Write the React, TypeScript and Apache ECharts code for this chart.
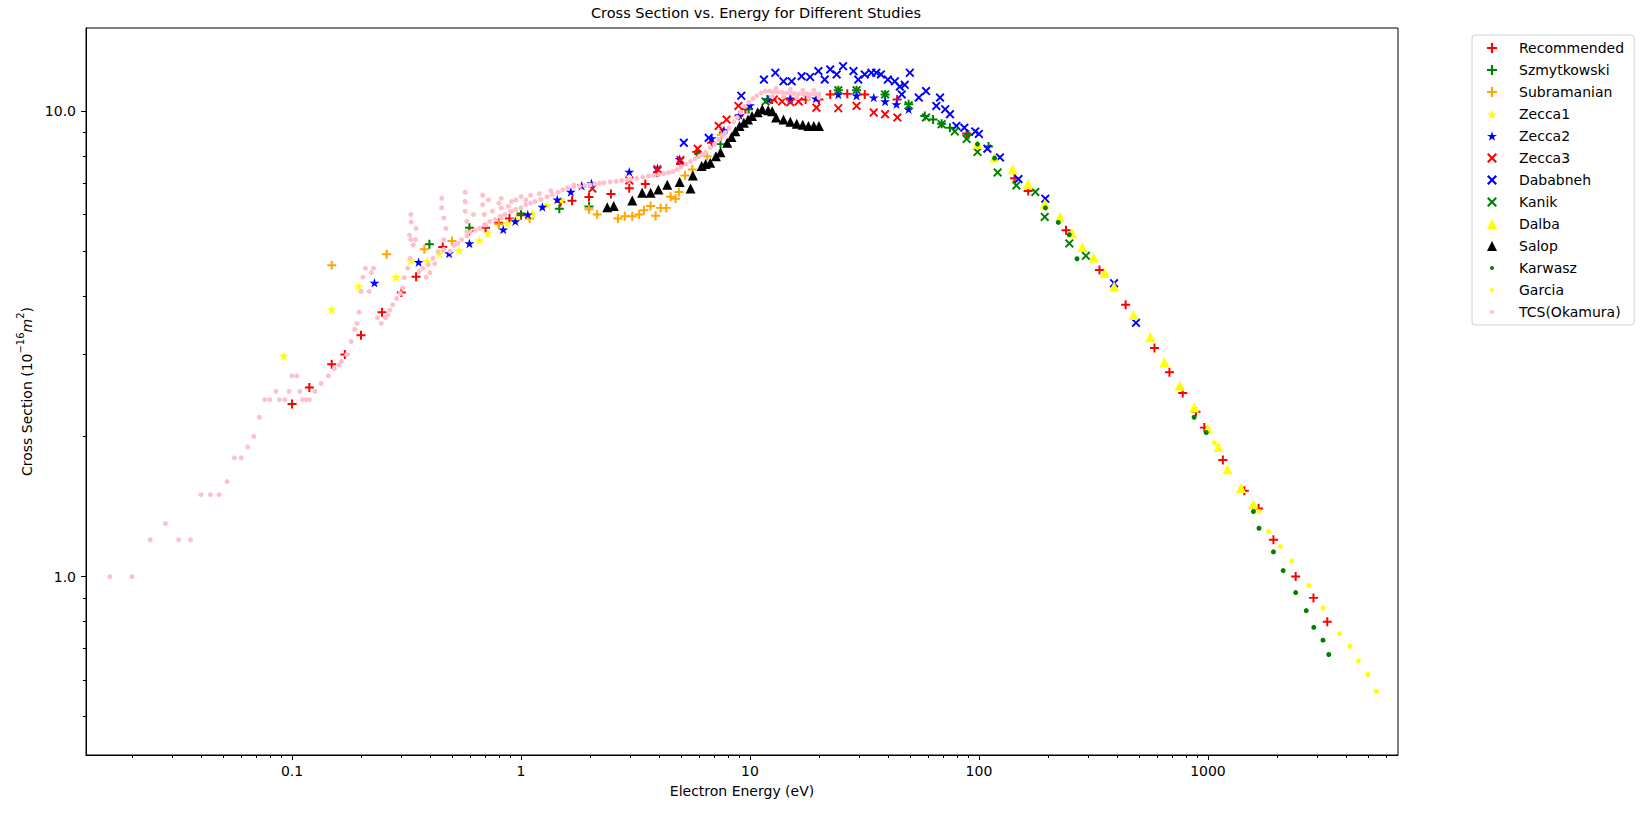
import React, { useEffect, useRef } from 'react';
import * as echarts from 'echarts';

type Pt = [number, number];

// [electron energy (eV), cross section (1e-16 m^2)]
const recommended: Pt[] = [
  [0.1, 2.35], [0.119, 2.55], [0.149, 2.86], [0.17, 3.0], [0.2, 3.3], [0.247, 3.7], [0.3, 4.08], [0.348, 4.41],
  [0.455, 5.11], [0.595, 5.53], [0.7, 5.62], [0.8, 5.76], [0.89, 5.88], [1.0, 5.98], [1.49, 6.38], [1.67, 6.42],
  [1.98, 6.54], [2.47, 6.64], [2.97, 6.83], [3.49, 6.98], [3.94, 7.39], [4.97, 7.7], [5.85, 8.18], [6.8, 8.56],
  [7.66, 9.0], [8.95, 9.78], [9.55, 10.1], [12.5, 10.6], [15, 10.6], [17.5, 10.6], [20, 10.6], [22.4, 10.87],
  [26.6, 10.9], [31.7, 10.87], [43.9, 10.6], [88.3, 8.96], [143, 7.18], [164, 6.74], [240, 5.55], [336, 4.56],
  [437, 3.84], [584, 3.1], [679, 2.75], [776, 2.48], [887, 2.26], [964, 2.09], [1162, 1.78], [1441, 1.53],
  [1664, 1.4], [1932, 1.2], [2416, 1.0], [2890, 0.9], [3320, 0.8],
];
const szmytkowski: Pt[] = [
  [0.398, 5.18], [0.595, 5.62], [1.0, 6.03], [1.47, 6.17], [1.98, 6.24], [5.97, 8.09], [7.43, 8.5], [9.86, 10.1],
  [11.9, 10.6], [24.3, 11.1], [29.2, 11.1], [38.9, 10.87], [49.3, 10.35], [58, 9.77], [63, 9.6], [68.7, 9.4],
  [74.7, 9.22], [90, 8.9], [110, 8.4],
];
const subramanian: Pt[] = [
  [0.149, 4.67], [0.259, 4.93], [0.378, 5.05], [0.499, 5.26], [0.8, 5.72], [1.09, 5.88], [1.98, 6.16], [2.15, 6.0],
  [2.65, 5.88], [2.84, 5.95], [3.06, 5.95], [3.28, 6.0], [3.44, 6.13], [3.68, 6.26], [3.87, 5.96], [4.07, 6.2],
  [4.31, 6.2], [4.5, 6.55], [4.73, 6.49], [4.89, 6.71], [5.2, 7.28], [5.6, 7.5], [6.5, 8.0], [7.5, 8.9],
];
const zecca1: Pt[] = [
  [0.092, 2.98], [0.149, 3.75], [0.195, 4.2], [0.285, 4.4], [0.331, 4.78], [0.39, 4.76], [0.44, 4.95], [0.537, 5.03],
  [0.658, 5.28], [0.715, 5.46], [0.87, 5.74], [0.95, 5.85], [1.12, 6.03], [1.3, 6.28], [1.5, 6.45],
];
const zecca2: Pt[] = [
  [0.229, 4.28], [0.357, 4.74], [0.485, 4.95], [0.595, 5.2], [0.836, 5.57], [0.944, 5.8], [1.07, 6.0], [1.24, 6.23],
  [1.44, 6.46], [1.65, 6.71], [1.84, 6.92], [2.03, 7.0], [2.97, 7.41], [3.94, 7.54], [4.93, 7.89], [6.8, 8.75],
  [7.7, 9.1], [9.0, 9.8], [10, 10.3], [12, 10.6], [15, 10.65], [19.4, 10.65], [24.3, 10.87], [29.2, 10.8],
  [34.7, 10.7], [38.9, 10.5], [43.6, 10.35], [49.3, 10.1],
];
const zecca3: Pt[] = [
  [2.05, 6.82], [2.97, 7.1], [3.94, 7.51], [4.97, 7.86], [5.91, 8.31], [7.3, 9.3], [7.9, 9.6], [8.9, 10.27],
  [12.7, 10.6], [13.8, 10.5], [15.0, 10.46], [16.3, 10.5], [19.5, 10.18], [24.3, 10.15], [29.2, 10.27], [34.7, 9.94],
  [38.9, 9.86], [44, 9.7],
];
const dababneh: Pt[] = [
  [5.14, 8.56], [6.6, 8.77], [9.16, 10.8], [11.5, 11.7], [12.9, 12.1], [14.0, 11.6], [15.2, 11.6], [16.8, 11.9],
  [18.3, 11.85], [19.9, 12.2], [21.2, 11.7], [22.4, 12.3], [23.9, 12.0], [25.5, 12.5], [28.3, 12.2], [29.7, 11.7],
  [31.7, 12.0], [33.9, 12.1], [35.6, 12.1], [37.3, 12.0], [40, 11.7], [42.9, 11.6], [45.1, 11.3], [46, 10.87],
  [47.4, 11.4], [49.9, 12.1], [54.6, 10.7], [58.7, 11.05], [65.1, 10.27], [67.6, 10.7], [71.2, 10.1], [74.7, 9.86],
  [79.7, 9.3], [86.3, 9.22], [96.3, 9.05], [99.9, 8.94], [108.8, 8.31], [123.5, 7.96], [148.8, 7.15], [194.8, 6.49],
  [389, 4.27], [485, 3.51],
];
const kanik: Pt[] = [
  [11.7, 10.5], [24.3, 11.1], [29.2, 11.1], [38.9, 10.87], [49.3, 10.3], [58.7, 9.7], [68.7, 9.38], [78.4, 9.05],
  [88.3, 8.72], [98.5, 8.18], [120.6, 7.39], [145.6, 6.93], [176.3, 6.71], [193.7, 5.93], [248, 5.2], [293, 4.89],
];
const dalba: Pt[] = [
  [98.5, 8.5], [116.7, 7.96], [140.3, 7.51], [163.6, 6.98], [193.7, 6.33], [226, 5.93], [255, 5.47], [283, 5.11],
  [317, 4.85], [354, 4.49], [389, 4.2], [473, 3.65], [560, 3.27], [645, 2.89], [753, 2.57], [870, 2.31],
  [1000, 2.08], [1110, 1.9], [1218, 1.7], [1395, 1.55], [1580, 1.43],
];
const salop: Pt[] = [
  [2.38, 6.22], [2.54, 6.26], [3.06, 6.43], [3.38, 6.68], [3.68, 6.68], [3.98, 6.79], [4.35, 6.95], [4.93, 7.05],
  [5.5, 6.82], [5.63, 7.28], [6.15, 7.63], [6.4, 7.7], [6.7, 7.75], [7.1, 8.0], [7.43, 8.16], [7.95, 8.56],
  [8.3, 8.8], [8.63, 9.06], [9.0, 9.3], [9.4, 9.45], [9.8, 9.6], [10.2, 9.77], [10.8, 9.95], [11.3, 10.1],
  [12.0, 10.05], [12.5, 10.0], [13.0, 9.7], [14, 9.6], [15, 9.5], [16, 9.4], [17, 9.35], [18, 9.3], [19, 9.3], [20, 9.3],
];
const karwasz: Pt[] = [
  [98.5, 8.5], [117, 7.93], [195, 6.2], [222, 5.77], [248, 5.43], [268, 4.82], [870, 2.2], [983, 2.04],
  [1580, 1.38], [1671, 1.27], [1932, 1.13], [2130, 1.03], [2416, 0.924], [2687, 0.845], [2899, 0.778], [3180, 0.73],
  [3370, 0.68],
];
const garcia: Pt[] = [
  [1067, 1.94], [1671, 1.38], [1840, 1.25], [2071, 1.16], [2315, 1.08], [2755, 0.957], [3180, 0.856], [3750, 0.754],
  [4160, 0.708], [4540, 0.659], [4990, 0.616], [5440, 0.567],
];
const tcsOkamura: Pt[] = [
  [0.016, 1.0], [0.02, 1.0], [0.024, 1.2], [0.028, 1.3], [0.032, 1.2], [0.036, 1.2], [0.04, 1.5], [0.044, 1.5],
  [0.048, 1.5], [0.052, 1.6], [0.056, 1.8], [0.06, 1.8], [0.064, 1.9], [0.068, 2.0], [0.072, 2.2], [0.076, 2.4],
  [0.08, 2.4], [0.085, 2.5], [0.088, 2.4], [0.093, 2.4], [0.097, 2.5], [0.1, 2.7], [0.105, 2.7], [0.108, 2.5],
  [0.111, 2.4], [0.115, 2.4], [0.119, 2.4], [0.126, 2.5], [0.134, 2.6], [0.144, 2.7], [0.153, 2.8], [0.16, 2.85],
  [0.164, 2.9], [0.173, 3.0], [0.181, 3.2], [0.188, 3.4], [0.192, 3.5], [0.196, 3.7], [0.2, 4.1], [0.204, 4.4],
  [0.209, 4.6], [0.217, 4.1], [0.222, 4.5], [0.227, 4.6], [0.236, 3.6], [0.245, 3.5], [0.256, 3.6], [0.262, 3.65],
  [0.267, 3.74], [0.275, 3.84], [0.286, 3.96], [0.297, 4.06], [0.304, 4.17], [0.309, 4.39], [0.32, 4.6], [0.328, 4.83],
  [0.338, 5.16], [0.326, 5.42], [0.348, 5.6], [0.331, 5.78], [0.33, 6.0], [0.33, 5.3], [0.346, 5.3], [0.359, 4.53],
  [0.372, 4.6], [0.385, 4.4], [0.394, 4.68], [0.4, 4.5], [0.413, 4.83], [0.42, 4.7], [0.434, 4.99],
  [0.45, 6.5], [0.45, 6.2], [0.46, 5.9], [0.47, 5.6], [0.46, 5.3], [0.57, 6.7], [0.57, 6.4], [0.57, 6.1],
  [0.58, 5.8], [0.58, 5.5], [0.68, 6.6], [0.68, 6.3], [0.69, 6.0], [0.69, 5.7], [0.82, 6.5], [0.82, 6.2],
  [0.82, 5.9], [0.91, 6.4], [0.91, 6.1],
  [0.46, 5.05], [0.49, 5.0], [0.51, 5.15], [0.53, 5.2], [0.55, 5.3], [0.58, 5.4], [0.6, 5.5], [0.63, 5.55],
  [0.66, 5.6], [0.7, 5.7], [0.73, 5.8], [0.77, 5.85], [0.81, 5.95], [0.85, 6.0], [0.9, 6.1], [0.95, 6.15],
  [1.0, 6.2], [1.05, 6.3], [1.1, 6.35], [1.15, 6.4], [1.22, 6.47], [1.3, 6.55], [1.37, 6.62], [1.45, 6.7],
  [1.52, 6.78], [1.6, 6.85], [1.7, 6.88], [1.8, 6.9], [1.9, 6.92], [2.0, 6.95], [2.1, 6.98], [2.2, 7.0],
  [2.3, 7.02], [2.45, 7.05], [2.6, 7.07], [2.75, 7.1], [2.9, 7.12], [3.0, 7.15], [3.2, 7.18], [3.4, 7.22],
  [3.6, 7.26], [3.8, 7.28], [4.0, 7.32], [4.2, 7.35], [4.4, 7.38], [4.6, 7.42], [4.8, 7.5], [5.0, 7.6],
  [5.25, 7.7], [5.5, 7.8], [5.75, 7.9], [6.0, 8.0], [6.2, 8.08], [6.4, 8.16], [6.7, 8.35], [7.0, 8.5],
  [7.3, 8.7], [7.6, 8.88], [7.8, 9.0], [8.1, 9.2], [8.5, 9.5], [8.8, 9.7], [9.1, 9.95], [9.5, 10.25],
  [9.9, 10.45], [10.3, 10.65], [10.7, 10.8], [11.2, 10.95], [11.7, 11.05], [12.2, 11.05], [12.7, 11.0], [13.2, 11.0],
  [13.8, 10.98], [14.4, 10.95], [15.0, 10.95], [15.6, 10.92], [16.3, 10.9], [17.0, 10.9], [17.7, 10.9], [18.4, 10.88],
  [19.2, 10.88], [20.0, 10.88], [12.5, 10.75], [14, 10.75], [16, 10.7], [18, 10.7], [20, 10.7], [13, 11.2],
  [15, 11.15], [17, 11.1], [19, 11.1],
  [0.62, 6.0], [0.72, 6.45], [0.75, 6.1], [0.8, 6.35], [0.88, 6.25], [0.95, 6.45], [1.0, 6.55], [1.05, 6.45],
  [1.1, 6.6], [1.2, 6.65], [1.35, 6.75], [1.7, 6.95],
];

const xTickValues = [0.1, 1, 10, 100, 1000];
const xTickLabels = ['0.1', '1', '10', '100', '1000'];
const yTickValues = [1, 10];
const yTickLabels = ['1.0', '10.0'];
const xRange = [0.01259, 6761];
const yRange = [0.4136, 15.1];

const FONT = 'DejaVu Sans';
const PLUS = 'path://M3.9,0H6.1V3.9H10V6.1H6.1V10H3.9V6.1H0V3.9H3.9Z';
const CROSS = 'path://M1.5,0L5,3.5L8.5,0L10,1.5L6.5,5L10,8.5L8.5,10L5,6.5L1.5,10L0,8.5L3.5,5L0,1.5Z';
const STAR = 'path://M50,0L61.23,34.55L97.55,34.55L68.17,55.9L79.39,90.45L50,69.1L20.61,90.45L31.83,55.9L2.45,34.55L38.77,34.55Z';
// small dot padded inside a 10x10 box so the legend keeps it small
const DOT = 'path://M0,0M10,10M3,5a2,2 0 1,0 4,0a2,2 0 1,0 -4,0Z';

const lg = Math.log10;

// minor ticks at 2..9 x 10^k
const minorTicks = (lo: number, hi: number) => {
  const out: number[] = [];
  for (let k = -3; k <= 4; k++) {
    for (let m = 2; m <= 9; m++) {
      const v = m * Math.pow(10, k);
      if (v > lo && v < hi) out.push(lg(v));
    }
  }
  return out;
};

const lookup = (vals: number[], labels: string[]) => (v: number) => {
  const i = vals.findIndex((t) => Math.abs(lg(t) - v) < 1e-6);
  return i >= 0 ? labels[i] : '';
};

const studies: { name: string; data: Pt[]; symbol: string; size: number; color: string; icon: string }[] = [
  { name: 'Recommended', data: recommended, symbol: PLUS, size: 9, color: '#ff0000', icon: PLUS },
  { name: 'Szmytkowski', data: szmytkowski, symbol: PLUS, size: 9, color: '#008000', icon: PLUS },
  { name: 'Subramanian', data: subramanian, symbol: PLUS, size: 9, color: '#ffa500', icon: PLUS },
  { name: 'Zecca1', data: zecca1, symbol: STAR, size: 10, color: '#ffff00', icon: STAR },
  { name: 'Zecca2', data: zecca2, symbol: STAR, size: 10, color: '#0000ff', icon: STAR },
  { name: 'Zecca3', data: zecca3, symbol: CROSS, size: 9, color: '#ff0000', icon: CROSS },
  { name: 'Dababneh', data: dababneh, symbol: CROSS, size: 9, color: '#0000ff', icon: CROSS },
  { name: 'Kanik', data: kanik, symbol: CROSS, size: 9, color: '#008000', icon: CROSS },
  { name: 'Dalba', data: dalba, symbol: 'triangle', size: 10, color: '#ffff00', icon: 'triangle' },
  { name: 'Salop', data: salop, symbol: 'triangle', size: 10, color: '#000000', icon: 'triangle' },
  { name: 'Karwasz', data: karwasz, symbol: 'circle', size: 5, color: '#008000', icon: DOT },
  { name: 'Garcia', data: garcia, symbol: 'circle', size: 5, color: '#ffff00', icon: DOT },
  { name: 'TCS(Okamura)', data: tcsOkamura, symbol: 'circle', size: 5, color: '#ffc0cb', icon: DOT },
];

const App = () => {
  const chartRef = useRef<HTMLDivElement>(null);

  useEffect(() => {
    const chart = echarts.init(chartRef.current, null, { renderer: 'svg' });

    const xMin = lg(xRange[0]);
    const xMax = lg(xRange[1]);
    const yMin = lg(yRange[0]);
    const yMax = lg(yRange[1]);
    const black = { color: '#000', width: 1 };

    const baseAxis = (min: number, max: number, extra: any) => ({
      type: 'value',
      min,
      max,
      splitLine: { show: false },
      ...extra,
    });

    chart.setOption({
      animation: false,
      backgroundColor: '#fff',
      grid: {
        left: 86,
        top: 28,
        width: 1312,
        height: 727,
        show: true,
        borderColor: '#000',
        borderWidth: 1,
        backgroundColor: 'transparent',
      },
      graphic: [
        {
          type: 'text',
          x: 756,
          y: 13,
          style: {
            text: 'Cross Section vs. Energy for Different Studies',
            fontFamily: FONT,
            fontSize: 14.5,
            fill: '#000',
            align: 'center',
            verticalAlign: 'middle',
          },
        },
      ],
      legend: {
        orient: 'vertical',
        left: 1472,
        top: 35,
        padding: [6, 10, 6, 15],
        itemWidth: 10,
        itemHeight: 10,
        itemGap: 8,
        selectedMode: false,
        borderColor: '#d0d0d0',
        borderWidth: 1,
        borderRadius: 3,
        backgroundColor: 'rgba(255,255,255,0.8)',
        textStyle: { fontFamily: FONT, fontSize: 14, color: '#000', padding: [0, 0, 0, 17] },
        data: studies.map((s) => ({ name: s.name, icon: s.icon, itemStyle: { color: s.color, opacity: 1 } })),
      },
      xAxis: [
        baseAxis(xMin, xMax, {
          position: 'bottom',
          name: 'Electron Energy (eV)',
          nameLocation: 'middle',
          nameGap: 29,
          nameTextStyle: { fontFamily: FONT, fontSize: 14, color: '#000' },
          axisLine: { show: true, onZero: false, lineStyle: black },
          axisTick: { show: true, length: 5, lineStyle: black, customValues: xTickValues.map(lg) },
          axisLabel: {
            show: true,
            margin: 9,
            fontFamily: FONT,
            fontSize: 14,
            color: '#000',
            customValues: xTickValues.map(lg),
            formatter: lookup(xTickValues, xTickLabels),
          },
        }),
        baseAxis(xMin, xMax, {
          position: 'bottom',
          axisLine: { show: false, onZero: false },
          axisTick: { show: true, length: 3, lineStyle: black, customValues: minorTicks(xRange[0], xRange[1]) },
          axisLabel: { show: false },
        }),
      ],
      yAxis: [
        baseAxis(yMin, yMax, {
          position: 'left',
          name: '{n|Cross Section (10}{s|−16}{i|m}{s|2}{n|)}',
          nameLocation: 'middle',
          nameGap: 49,
          nameTextStyle: {
            fontFamily: FONT,
            fontSize: 14,
            color: '#000',
            rich: {
              n: { fontFamily: FONT, fontSize: 14, color: '#000', lineHeight: 18, verticalAlign: 'bottom' },
              i: { fontFamily: FONT, fontSize: 14, color: '#000', lineHeight: 18, verticalAlign: 'bottom', fontStyle: 'italic' },
              s: { fontFamily: FONT, fontSize: 10, color: '#000', verticalAlign: 'top' },
            },
          },
          axisLine: { show: true, onZero: false, lineStyle: black },
          axisTick: { show: true, length: 5, lineStyle: black, customValues: yTickValues.map(lg) },
          axisLabel: {
            show: true,
            margin: 10,
            fontFamily: FONT,
            fontSize: 14,
            color: '#000',
            customValues: yTickValues.map(lg),
            formatter: lookup(yTickValues, yTickLabels),
          },
        }),
        baseAxis(yMin, yMax, {
          position: 'left',
          axisLine: { show: false, onZero: false },
          axisTick: { show: true, length: 3, lineStyle: black, customValues: minorTicks(yRange[0], yRange[1]) },
          axisLabel: { show: false },
        }),
      ],
      series: studies.map((s) => ({
        name: s.name,
        type: 'scatter',
        xAxisIndex: 0,
        yAxisIndex: 0,
        silent: true,
        symbol: s.symbol,
        symbolSize: s.size,
        symbolKeepAspect: true,
        itemStyle: { color: s.color, opacity: 1 },
        data: s.data.map(([e, q]) => [lg(e), lg(q)]),
      })),
    });

    return () => {
      chart.dispose();
    };
  }, []);

  return (
    <div
      ref={chartRef}
      style={{ position: 'fixed', left: 0, top: 0, width: '1652px', height: '820px' }}
    />
  );
};

export default App;
